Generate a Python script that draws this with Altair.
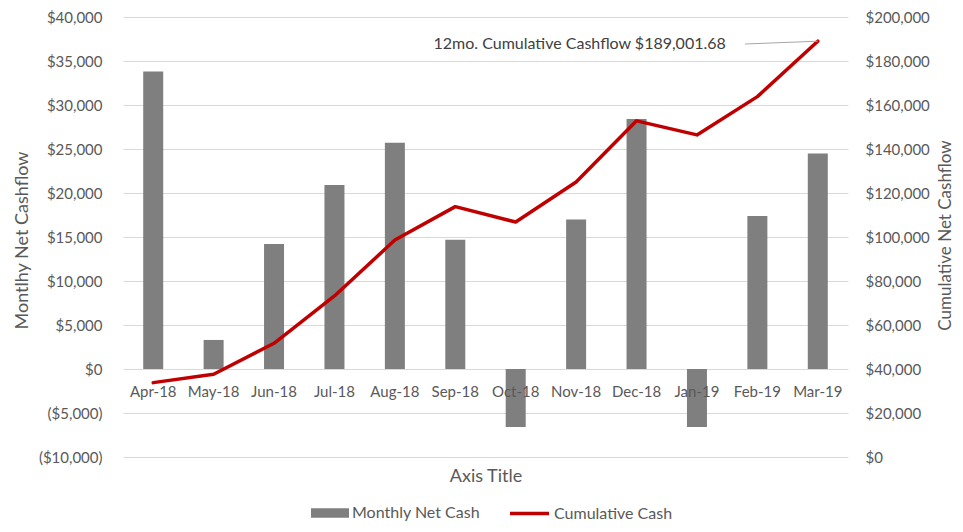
import altair as alt
import pandas as pd

months = ["Apr-18", "May-18", "Jun-18", "Jul-18", "Aug-18", "Sep-18",
          "Oct-18", "Nov-18", "Dec-18", "Jan-19", "Feb-19", "Mar-19"]
monthly_net = [33800, 3300, 14200, 20900, 25700, 14700,
               -6600, 17000, 28400, -6600, 17400, 24500]
cumulative = [33800, 37600, 51700, 73200, 98600, 113800,
              106800, 125000, 152800, 146400, 163800, 189001.68]
left_ticks = list(range(-10000, 40001, 5000))
right_ticks = list(range(0, 200001, 20000))
annotation_label = "12mo. Cumulative Cashflow $189,001.68"

FONT = "Lato"
GREY_TXT = "#595959"
BAR = "#7f7f7f"
RED = "#c00000"

df = pd.DataFrame({
    "month": months,
    "net": monthly_net,
    "cum": cumulative,
    "bar_series": "Monthly Net Cash",
    "line_series": "Cumulative Cash",
})
ann = pd.DataFrame({"month": [months[-1]], "cum": [cumulative[-1]], "label": [annotation_label]})

x_enc = alt.X(
    "month:N", sort=months,
    scale=alt.Scale(paddingInner=0, paddingOuter=0),
    axis=alt.Axis(
        title="Axis Title", orient="bottom", offset=-88, domain=False, ticks=False,
        labelPadding=15, labelAngle=0, grid=False, labelFontSize=15, zindex=1,
        titleY=107, titleBaseline="middle", titleFontSize=18,
    ),
)

y_left = alt.Y(
    "net:Q",
    scale=alt.Scale(domain=[-10000, 40000], nice=False, zero=True),
    axis=alt.Axis(
        values=left_ticks, grid=True, gridColor="#d9d9d9", gridWidth=1,
        domain=False, ticks=False, labelPadding=21, labelFontSize=15,
        labelExpr="datum.value < 0 ? '($' + format(-datum.value, ',') + ')' : '$' + format(datum.value, ',')",
        title="Montlhy Net  Cashflow", titleAngle=270, titleX=-101, titleY=223,
        titleAlign="center", titleBaseline="middle", titleFontSize=18,
    ),
)

y_right = alt.Y(
    "cum:Q",
    scale=alt.Scale(domain=[0, 200000], nice=False),
    axis=alt.Axis(
        orient="right", values=right_ticks, format="$,.0f", grid=False,
        domain=False, ticks=False, labelPadding=17, labelFontSize=15,
        title="Cumulative Net  Cashflow", titleAngle=270, titleX=97, titleY=218,
        titleAlign="center", titleBaseline="middle", titleFontSize=17,
    ),
)

bars = alt.Chart(df).mark_bar(width=20).encode(
    x=x_enc,
    y=y_left,
    fill=alt.Fill(
        "bar_series:N",
        scale=alt.Scale(domain=["Monthly Net Cash"], range=[BAR]),
        legend=alt.Legend(
            title=None, orient="none", legendX=188, legendY=477, padding=0,
            symbolType="M-1,-0.25H1V0.25H-1Z", symbolSize=1444,
            symbolStrokeWidth=0, labelOffset=3, labelFontSize=16,
        ),
    ),
)

line = alt.Chart(df).mark_line(strokeWidth=3.5, strokeJoin="round", strokeCap="round").encode(
    x=x_enc,
    y=y_right,
    stroke=alt.Stroke(
        "line_series:N",
        scale=alt.Scale(domain=["Cumulative Cash"], range=[RED]),
        legend=alt.Legend(
            title=None, orient="none", legendX=385, legendY=475, padding=0,
            symbolType="stroke", symbolSize=1521, symbolStrokeWidth=3.5,
            labelOffset=3, labelFontSize=16,
        ),
    ),
)

text = alt.Chart(ann).mark_text(
    align="right", baseline="middle", dx=-92, dy=3, fontSize=16, font=FONT, color="#404040"
).encode(x=x_enc, y=y_right, text="label:N")

leader = alt.Chart(ann).mark_rule(color="#a6a6a6", strokeWidth=1).encode(
    x=x_enc, y=y_right, x2=alt.value(622), y2=alt.value(27)
)

chart = alt.layer(bars, alt.layer(line, leader, text)).resolve_scale(
    y="independent"
).properties(
    width=725, height=440,
    padding={"left": 115, "top": 9, "right": 107, "bottom": 67},
    autosize=alt.AutoSizeParams(type="none"),
).configure_view(stroke=None).configure_axis(
    labelFont=FONT, titleFont=FONT, labelColor=GREY_TXT, titleColor=GREY_TXT,
    titleFontWeight="normal",
).configure_legend(
    labelFont=FONT, labelColor=GREY_TXT,
)

chart.save("out.html", embed_options={"renderer": "svg", "actions": False})
